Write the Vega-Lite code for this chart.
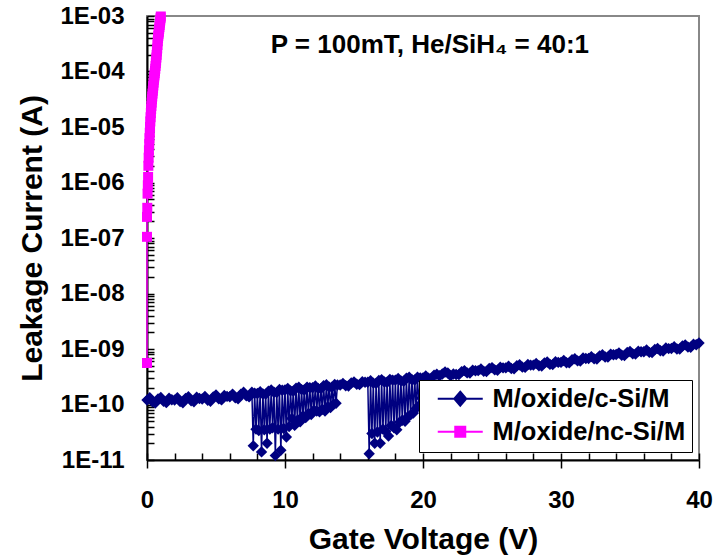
{
  "$schema": "https://vega.github.io/schema/vega-lite/v6.json",
  "width": 552,
  "height": 444,
  "autosize": {"type": "none"},
  "padding": {"left": 147, "top": 16, "right": 14, "bottom": 96},
  "background": "white",
  "config": {
    "font": "Liberation Sans",
    "view": {"stroke": "#888888", "strokeWidth": 2},
    "axis": {
      "domainColor": "black", "domainWidth": 2, "tickColor": "black", "tickWidth": 1.5, "grid": false,
      "labelFont": "Liberation Sans", "labelFontWeight": "bold", "labelFontSize": 24, "labelColor": "black",
      "titleFont": "Liberation Sans", "titleFontWeight": "bold", "titleFontSize": 30, "titleColor": "black",
      "labelOverlap": false, "labelFlush": false, "labelBound": false
    },
    "legend": {
      "title": null, "orient": "none", "legendX": 272, "legendY": 364,
      "symbolSize": 400, "symbolStrokeWidth": 2, "symbolOpacity": 1,
      "labelFont": "Liberation Sans", "labelFontSize": 25.5, "labelFontWeight": "bold", "labelColor": "black",
      "labelLimit": 400, "labelOffset": 42, "padding": 6, "strokeColor": "black", "fillColor": "white", "rowPadding": 6
    }
  },
  "resolve": {"axis": {"x": "independent"}},
  "datasets": {
    "c": [
      {"x":0,"y":1.20e-10},{"x":0.2,"y":1.32e-10},{"x":0.4,"y":1.12e-10},{"x":0.6,"y":1.06e-10},{"x":0.8,"y":1.26e-10},
      {"x":1.0,"y":1.34e-10},{"x":1.2,"y":1.14e-10},{"x":1.4,"y":1.08e-10},{"x":1.6,"y":1.30e-10},{"x":1.8,"y":1.22e-10},
      {"x":2.0,"y":1.20e-10},{"x":2.2,"y":1.33e-10},{"x":2.4,"y":1.13e-10},{"x":2.6,"y":1.07e-10},{"x":2.8,"y":1.29e-10},
      {"x":3.0,"y":1.38e-10},{"x":3.2,"y":1.17e-10},{"x":3.4,"y":1.12e-10},{"x":3.6,"y":1.35e-10},{"x":3.8,"y":1.28e-10},
      {"x":4.0,"y":1.26e-10},{"x":4.2,"y":1.40e-10},{"x":4.4,"y":1.19e-10},{"x":4.6,"y":1.14e-10},{"x":4.8,"y":1.37e-10},
      {"x":5.0,"y":1.48e-10},{"x":5.2,"y":1.27e-10},{"x":5.4,"y":1.21e-10},{"x":5.6,"y":1.46e-10},{"x":5.8,"y":1.40e-10},
      {"x":6.0,"y":1.38e-10},{"x":6.2,"y":1.54e-10},{"x":6.4,"y":1.32e-10},{"x":6.6,"y":1.27e-10},{"x":6.8,"y":1.53e-10},
      {"x":7.0,"y":1.66e-10},{"x":7.2,"y":1.43e-10},{"x":7.4,"y":1.37e-10},{"x":7.6,"y":1.66e-10},{"x":7.7,"y":1.8e-11},
      {"x":7.8,"y":1.59e-10},{"x":7.9,"y":3.6e-11},{"x":8.0,"y":1.58e-10},{"x":8.1,"y":3.4e-11},{"x":8.2,"y":1.70e-10},
      {"x":8.3,"y":1.4e-11},{"x":8.4,"y":1.55e-10},{"x":8.5,"y":3.5e-11},{"x":8.6,"y":1.54e-10},{"x":8.7,"y":2.0e-11},
      {"x":8.8,"y":1.74e-10},{"x":8.9,"y":3.6e-11},{"x":9.0,"y":1.82e-10},{"x":9.1,"y":3.8e-11},{"x":9.2,"y":1.66e-10},
      {"x":9.3,"y":1.2e-11},{"x":9.4,"y":1.64e-10},{"x":9.5,"y":3.6e-11},{"x":9.6,"y":1.86e-10},{"x":9.7,"y":1.5e-11},
      {"x":9.8,"y":1.81e-10},{"x":9.9,"y":3.7e-11},{"x":10.0,"y":1.82e-10},{"x":10.1,"y":2.6e-11},{"x":10.2,"y":1.95e-10},
      {"x":10.3,"y":4.0e-11},{"x":10.4,"y":1.76e-10},{"x":10.5,"y":5.6e-11},{"x":10.6,"y":1.74e-10},{"x":10.7,"y":4.2e-11},
      {"x":10.8,"y":1.97e-10},{"x":10.9,"y":5.2e-11},{"x":11.0,"y":2.04e-10},{"x":11.1,"y":4.9e-11},{"x":11.2,"y":1.85e-10},
      {"x":11.3,"y":6.2e-11},{"x":11.4,"y":1.83e-10},{"x":11.5,"y":5.8e-11},{"x":11.6,"y":2.06e-10},{"x":11.7,"y":6.9e-11},
      {"x":11.8,"y":2.00e-10},{"x":11.9,"y":6.6e-11},{"x":12.0,"y":2.00e-10},{"x":12.1,"y":7.9e-11},{"x":12.2,"y":2.15e-10},
      {"x":12.3,"y":7.6e-11},{"x":12.4,"y":1.95e-10},{"x":12.5,"y":7.4e-11},{"x":12.6,"y":1.93e-10},{"x":12.7,"y":8.2e-11},
      {"x":12.8,"y":2.18e-10},{"x":12.9,"y":7.6e-11},{"x":13.0,"y":2.27e-10},{"x":13.1,"y":9.1e-11},{"x":13.2,"y":2.06e-10},
      {"x":13.3,"y":8.8e-11},{"x":13.4,"y":2.04e-10},{"x":13.5,"y":1.00e-10},{"x":13.6,"y":2.30e-10},{"x":13.7,"y":1.05e-10},
      {"x":13.8,"y":2.24e-10},{"x":14.0,"y":2.24e-10},{"x":14.2,"y":2.40e-10},{"x":14.4,"y":2.18e-10},{"x":14.6,"y":2.16e-10},
      {"x":14.8,"y":2.44e-10},{"x":15.0,"y":2.54e-10},{"x":15.2,"y":2.31e-10},{"x":15.4,"y":2.28e-10},{"x":15.6,"y":2.58e-10},
      {"x":15.8,"y":2.51e-10},{"x":16.0,"y":2.51e-10},{"x":16.1,"y":1.3e-11},{"x":16.2,"y":2.69e-10},{"x":16.3,"y":3.0e-11},
      {"x":16.4,"y":2.43e-10},{"x":16.5,"y":2.0e-11},{"x":16.6,"y":2.40e-10},{"x":16.7,"y":3.2e-11},{"x":16.8,"y":2.71e-10},
      {"x":16.9,"y":2.0e-11},{"x":17.0,"y":2.81e-10},{"x":17.1,"y":3.6e-11},{"x":17.2,"y":2.55e-10},{"x":17.3,"y":3.3e-11},
      {"x":17.4,"y":2.52e-10},{"x":17.5,"y":2.7e-11},{"x":17.6,"y":2.84e-10},{"x":17.7,"y":4.2e-11},{"x":17.8,"y":2.75e-10},
      {"x":17.9,"y":3.8e-11},{"x":18.0,"y":2.75e-10},{"x":18.1,"y":3.5e-11},{"x":18.2,"y":2.94e-10},{"x":18.3,"y":4.8e-11},
      {"x":18.4,"y":2.66e-10},{"x":18.5,"y":5.2e-11},{"x":18.6,"y":2.63e-10},{"x":18.7,"y":5.0e-11},{"x":18.8,"y":2.97e-10},
      {"x":18.9,"y":6.0e-11},{"x":19.0,"y":3.09e-10},{"x":19.1,"y":6.5e-11},{"x":19.2,"y":2.80e-10},{"x":19.3,"y":7.0e-11},
      {"x":19.4,"y":2.76e-10},{"x":19.5,"y":8.5e-11},{"x":19.6,"y":3.11e-10},{"x":19.7,"y":9.5e-11},{"x":19.8,"y":3.02e-10},
      {"x":19.9,"y":1.30e-10},{"x":20.0,"y":3.02e-10},{"x":20.2,"y":3.26e-10},{"x":20.4,"y":2.97e-10},{"x":20.6,"y":2.96e-10},
      {"x":20.8,"y":3.36e-10},{"x":21.0,"y":3.51e-10},{"x":21.2,"y":3.30e-10},{"x":21.4,"y":3.55e-10},{"x":21.6,"y":3.85e-10},
      {"x":21.8,"y":3.70e-10},{"x":22.0,"y":3.30e-10},{"x":22.2,"y":3.55e-10},{"x":22.4,"y":3.47e-10},{"x":22.6,"y":3.45e-10},
      {"x":22.8,"y":3.91e-10},{"x":23.0,"y":4.08e-10},{"x":23.2,"y":3.71e-10},{"x":23.4,"y":3.68e-10},{"x":23.6,"y":4.16e-10},
      {"x":23.8,"y":4.06e-10},{"x":24.0,"y":4.07e-10},{"x":24.2,"y":4.37e-10},{"x":24.4,"y":3.96e-10},{"x":24.6,"y":3.92e-10},
      {"x":24.8,"y":4.44e-10},{"x":25.0,"y":4.62e-10},{"x":25.2,"y":4.20e-10},{"x":25.4,"y":4.15e-10},{"x":25.6,"y":4.69e-10},
      {"x":25.8,"y":4.57e-10},{"x":26.0,"y":4.57e-10},{"x":26.2,"y":4.90e-10},{"x":26.4,"y":4.45e-10},{"x":26.6,"y":4.41e-10},
      {"x":26.8,"y":4.99e-10},{"x":27.0,"y":5.19e-10},{"x":27.2,"y":4.71e-10},{"x":27.4,"y":4.66e-10},{"x":27.6,"y":5.27e-10},
      {"x":27.8,"y":5.12e-10},{"x":28.0,"y":5.13e-10},{"x":28.2,"y":5.50e-10},{"x":28.4,"y":4.99e-10},{"x":28.6,"y":4.94e-10},
      {"x":28.8,"y":5.59e-10},{"x":29.0,"y":5.82e-10},{"x":29.2,"y":5.28e-10},{"x":29.4,"y":5.23e-10},{"x":29.6,"y":5.91e-10},
      {"x":29.8,"y":5.74e-10},{"x":30.0,"y":5.75e-10},{"x":30.2,"y":6.20e-10},{"x":30.4,"y":5.65e-10},{"x":30.6,"y":5.63e-10},
      {"x":30.8,"y":6.40e-10},{"x":31.0,"y":6.69e-10},{"x":31.2,"y":6.10e-10},{"x":31.4,"y":6.07e-10},{"x":31.6,"y":6.89e-10},
      {"x":31.8,"y":6.73e-10},{"x":32.0,"y":6.76e-10},{"x":32.2,"y":7.29e-10},{"x":32.4,"y":6.65e-10},{"x":32.6,"y":6.62e-10},
      {"x":32.8,"y":7.52e-10},{"x":33.0,"y":7.86e-10},{"x":33.2,"y":7.17e-10},{"x":33.4,"y":7.13e-10},{"x":33.6,"y":8.09e-10},
      {"x":33.8,"y":7.90e-10},{"x":34.0,"y":7.94e-10},{"x":34.2,"y":8.52e-10},{"x":34.4,"y":7.73e-10},{"x":34.6,"y":7.65e-10},
      {"x":34.8,"y":8.66e-10},{"x":35.0,"y":9.01e-10},{"x":35.2,"y":8.18e-10},{"x":35.4,"y":8.10e-10},{"x":35.6,"y":9.15e-10},
      {"x":35.8,"y":8.90e-10},{"x":36.0,"y":8.91e-10},{"x":36.2,"y":9.58e-10},{"x":36.4,"y":8.71e-10},{"x":36.6,"y":8.65e-10},
      {"x":36.8,"y":9.80e-10},{"x":37.0,"y":1.022e-9},{"x":37.2,"y":9.30e-10},{"x":37.4,"y":9.22e-10},{"x":37.6,"y":1.044e-9},
      {"x":37.8,"y":1.017e-9},{"x":38.0,"y":1.020e-9},{"x":38.2,"y":1.100e-9},{"x":38.4,"y":1.003e-9},{"x":38.6,"y":9.99e-10},
      {"x":38.8,"y":1.136e-9},{"x":39.0,"y":1.188e-9},{"x":39.2,"y":1.083e-9},{"x":39.4,"y":1.077e-9},{"x":39.6,"y":1.222e-9},
      {"x":39.8,"y":1.194e-9},{"x":40.0,"y":1.28e-9}
    ],
    "nc": [
      {"x":0,"y":5.6e-10},{"x":0,"y":1.05e-7},{"x":0,"y":2.4e-7},{"x":0.02,"y":3.5e-7},{"x":0.04,"y":6.3e-7},
      {"x":0.06,"y":8.9e-7},{"x":0.08,"y":1.26e-6},{"x":0.10,"y":2.0e-6},{"x":0.12,"y":2.8e-6},{"x":0.14,"y":3.8e-6},
      {"x":0.16,"y":5.0e-6},{"x":0.18,"y":6.3e-6},{"x":0.20,"y":7.9e-6},{"x":0.22,"y":1.0e-5},{"x":0.24,"y":1.26e-5},
      {"x":0.26,"y":1.5e-5},{"x":0.28,"y":1.78e-5},{"x":0.30,"y":2.1e-5},{"x":0.32,"y":2.4e-5},{"x":0.34,"y":2.75e-5},
      {"x":0.36,"y":3.16e-5},{"x":0.38,"y":3.55e-5},{"x":0.40,"y":4.0e-5},{"x":0.42,"y":4.5e-5},{"x":0.44,"y":5.0e-5},
      {"x":0.46,"y":5.6e-5},{"x":0.48,"y":6.3e-5},{"x":0.50,"y":7.1e-5},{"x":0.52,"y":7.8e-5},{"x":0.54,"y":8.5e-5},
      {"x":0.56,"y":9.3e-5},{"x":0.58,"y":1.02e-4},{"x":0.60,"y":1.12e-4},{"x":0.62,"y":1.26e-4},{"x":0.64,"y":1.41e-4},
      {"x":0.66,"y":1.58e-4},{"x":0.68,"y":1.78e-4},{"x":0.70,"y":2.0e-4},{"x":0.72,"y":2.3e-4},{"x":0.74,"y":2.6e-4},
      {"x":0.76,"y":3.0e-4},{"x":0.78,"y":3.5e-4},{"x":0.80,"y":4.0e-4},{"x":0.82,"y":4.4e-4},{"x":0.84,"y":4.8e-4},
      {"x":0.86,"y":5.2e-4},{"x":0.88,"y":5.8e-4},{"x":0.90,"y":6.3e-4},{"x":0.92,"y":6.9e-4},{"x":0.94,"y":7.6e-4},
      {"x":0.96,"y":8.3e-4},{"x":0.98,"y":9.1e-4},{"x":1.00,"y":9.8e-4}
    ]
  },
  "layer": [
    {
      "data": {"name": "c"},
      "mark": {"type": "line", "color": "#000080", "strokeWidth": 1.5},
      "encoding": {
        "x": {
          "field": "x", "type": "quantitative",
          "scale": {"domain": [0, 40], "nice": false, "zero": false},
          "title": "Gate Voltage (V)",
          "axis": {
            "orient": "bottom",
            "values": [0, 10, 20, 30, 40],
            "format": "d",
            "tickSize": 8,
            "labelPadding": 20, "titlePadding": 12
          }
        },
        "y": {
          "field": "y", "type": "quantitative",
          "scale": {"type": "log", "domain": [1e-11, 1e-3], "nice": false},
          "title": "Leakage Current (A)",
          "axis": {
            "values": [1e-11,2e-11,3e-11,4e-11,5e-11,6e-11,7e-11,8e-11,9e-11,
                       1e-10,2e-10,3e-10,4e-10,5e-10,6e-10,7e-10,8e-10,9e-10,
                       1e-9,2e-9,3e-9,4e-9,5e-9,6e-9,7e-9,8e-9,9e-9,
                       1e-8,2e-8,3e-8,4e-8,5e-8,6e-8,7e-8,8e-8,9e-8,
                       1e-7,2e-7,3e-7,4e-7,5e-7,6e-7,7e-7,8e-7,9e-7,
                       1e-6,2e-6,3e-6,4e-6,5e-6,6e-6,7e-6,8e-6,9e-6,
                       1e-5,2e-5,3e-5,4e-5,5e-5,6e-5,7e-5,8e-5,9e-5,
                       1e-4,2e-4,3e-4,4e-4,5e-4,6e-4,7e-4,8e-4,9e-4,1e-3],
            "labelExpr": "abs(log(datum.value)/LN10 - round(log(datum.value)/LN10)) < 0.01 ? '1E-' + (round(-log(datum.value)/LN10) < 10 ? '0' : '') + round(-log(datum.value)/LN10) : ''",
            "labelOverlap": false,
            "tickSize": -7,
            "labelPadding": 30, "titlePadding": 12
          }
        }
      }
    },
    {
      "data": {"name": "c"},
      "mark": {"type": "point", "shape": "diamond", "filled": true, "color": "#000080", "size": 130, "opacity": 1},
      "encoding": {"x": {"field": "x", "type": "quantitative", "axis": null}, "y": {"field": "y", "type": "quantitative"}}
    },
    {
      "data": {"name": "nc"},
      "mark": {"type": "line", "color": "#FF00FF", "strokeWidth": 1.5},
      "encoding": {
        "x": {
          "field": "x", "type": "quantitative",
          "axis": {
            "orient": "bottom", "title": null, "labels": false, "domain": false,
            "values": [0,2,4,6,8,10,12,14,16,18,20,22,24,26,28,30,32,34,36,38,40],
            "tickSize": -7
          }
        },
        "y": {"field": "y", "type": "quantitative"}
      }
    },
    {
      "data": {"name": "nc"},
      "mark": {"type": "point", "shape": "square", "filled": true, "color": "#FF00FF", "size": 100, "opacity": 1},
      "encoding": {"x": {"field": "x", "type": "quantitative", "axis": null}, "y": {"field": "y", "type": "quantitative"}}
    },
    {
      "data": {"values": [{"s": "M/oxide/c-Si/M"}, {"s": "M/oxide/nc-Si/M"}]},
      "transform": [{"filter": "false"}],
      "mark": {"type": "point", "filled": true},
      "encoding": {
        "fill": {"field": "s", "type": "nominal", "scale": {"domain": ["M/oxide/c-Si/M", "M/oxide/nc-Si/M"], "range": ["#000080", "#FF00FF"]}, "legend": {"title": null}},
        "stroke": {"field": "s", "type": "nominal", "scale": {"domain": ["M/oxide/c-Si/M", "M/oxide/nc-Si/M"], "range": ["#000080", "#FF00FF"]}, "legend": {"title": null}},
        "shape": {"field": "s", "type": "nominal", "scale": {"domain": ["M/oxide/c-Si/M", "M/oxide/nc-Si/M"], "range": ["M0,0H4.5M2.25,-0.7L2.85,0L2.25,0.7L1.65,0Z", "M0,0H4.5M1.75,-0.5H2.75V0.5H1.75Z"]}, "legend": {"title": null}}
      }
    },
    {
      "data": {"values": [{}]},
      "mark": {"type": "text", "text": "P = 100mT, He/SiH₄ = 40:1", "font": "Liberation Sans", "fontSize": 26, "fontWeight": "bold", "color": "black", "align": "center", "baseline": "alphabetic"},
      "encoding": {"x": {"datum": 20.5, "type": "quantitative", "axis": null}, "y": {"datum": 2.15e-4, "type": "quantitative"}}
    }
  ]
}
